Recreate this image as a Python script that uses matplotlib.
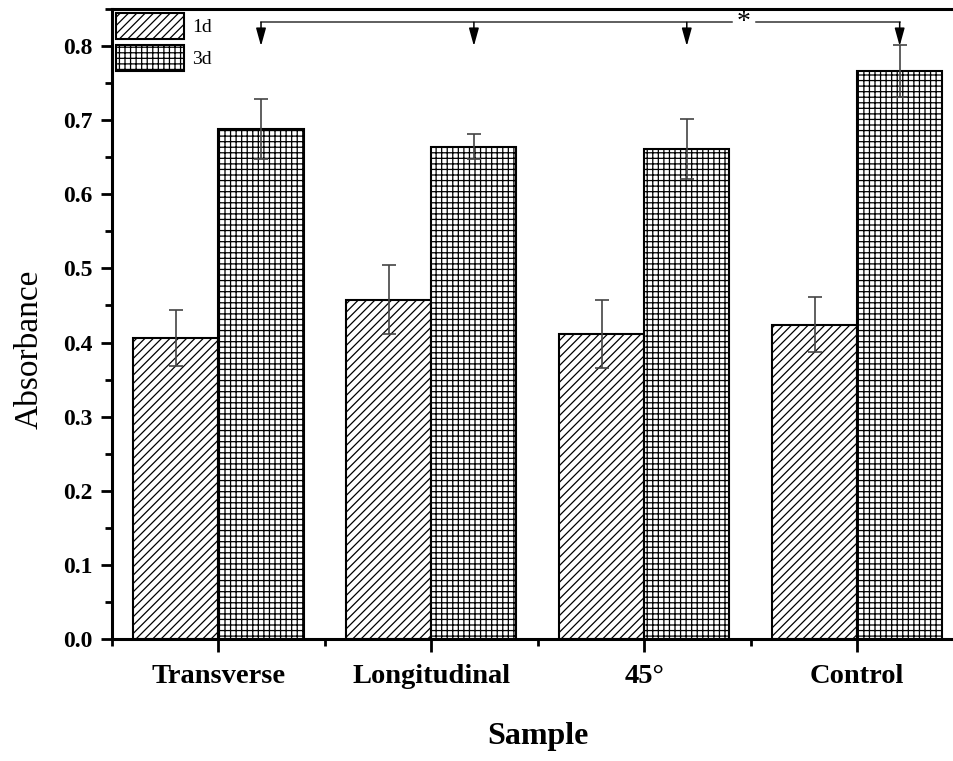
import numpy as np
import matplotlib
matplotlib.use('Agg')
import matplotlib.pyplot as plt
from matplotlib.ticker import MultipleLocator, FixedLocator

plt.rcParams['font.family'] = ['Liberation Serif', 'DejaVu Serif']
plt.rcParams['hatch.linewidth'] = 0.9

# 样本与吸光度数据
samples = ['Transverse', 'Longitudinal', '45°', 'Control']
abs_1d = [0.406, 0.458, 0.412, 0.424]
err_1d = [0.038, 0.046, 0.046, 0.037]
abs_3d = [0.688, 0.664, 0.661, 0.766]
err_3d = [0.041, 0.017, 0.041, 0.035]

x = np.arange(1, len(samples) + 1)
w = 0.4

fig = plt.figure(figsize=(9.54, 7.61), dpi=100)
ax = fig.add_axes([0.1174, 0.1603, 0.8926, 0.8279])

b1 = ax.bar(x - w / 2, abs_1d, w, color='white', edgecolor='black',
            linewidth=1.5, hatch='////', label='1d', zorder=2)
b2 = ax.bar(x + w / 2, abs_3d, w, color='white', edgecolor='black',
            linewidth=1.5, hatch='+++', label='3d', zorder=2)
ax.errorbar(x - w / 2, abs_1d, yerr=err_1d, fmt='none', ecolor='#444444',
            elinewidth=1.2, capsize=5, capthick=1.2, zorder=3)
ax.errorbar(x + w / 2, abs_3d, yerr=err_3d, fmt='none', ecolor='#444444',
            elinewidth=1.2, capsize=5, capthick=1.2, zorder=3)

# 显著性标记
y_line = 0.832
y_tip = 0.800
x3 = x + w / 2
star_x = 3.467
ax.plot([x3[0], star_x - 0.055], [y_line, y_line], color='#333333', lw=1.1)
ax.plot([star_x + 0.06, x3[-1]], [y_line, y_line], color='#333333', lw=1.1)
for xi in x3:
    ax.annotate('', xy=(xi, y_tip), xytext=(xi, y_line),
                arrowprops=dict(arrowstyle='-|>,head_length=0.9,head_width=0.25',
                                color='black', lw=1.1, shrinkA=0, shrinkB=0,
                                mutation_scale=12))
ax.text(star_x, y_line, '*', ha='center', va='center', fontsize=20)

ax.set_xlim(0.5, 4.5)
ax.set_ylim(0, 0.85)
ax.set_xticks(x)
ax.set_xticklabels(samples, fontsize=20.5, fontweight='bold')
ax.xaxis.set_minor_locator(FixedLocator([0.5, 1.5, 2.5, 3.5]))
ax.yaxis.set_major_locator(MultipleLocator(0.1))
ax.yaxis.set_minor_locator(MultipleLocator(0.05))
ax.set_yticks(np.arange(0, 0.81, 0.1))
ax.set_yticklabels(['%.1f' % v for v in np.arange(0, 0.81, 0.1)],
                   fontsize=17, fontweight='bold')

ax.tick_params(axis='both', which='major', direction='out', width=2)
ax.tick_params(axis='y', which='major', length=8, pad=6)
ax.tick_params(axis='x', which='major', length=9, pad=9)
ax.tick_params(axis='both', which='minor', direction='out', length=5, width=2)

for s in ['left', 'bottom', 'top']:
    ax.spines[s].set_linewidth(2.2)
ax.spines['right'].set_visible(False)

ax.set_xlabel('Sample', fontsize=23, fontweight='bold', labelpad=24)
ax.set_ylabel('Absorbance', fontsize=24)
ax.yaxis.set_label_coords(-0.079, 0.46)

ax.legend(loc='upper left', frameon=False, fontsize=14, handlelength=3.5,
          handleheight=1.7, labelspacing=0.3, borderaxespad=0.2,
          borderpad=0.0, handletextpad=0.4)

fig.savefig('out.png', dpi=100)
